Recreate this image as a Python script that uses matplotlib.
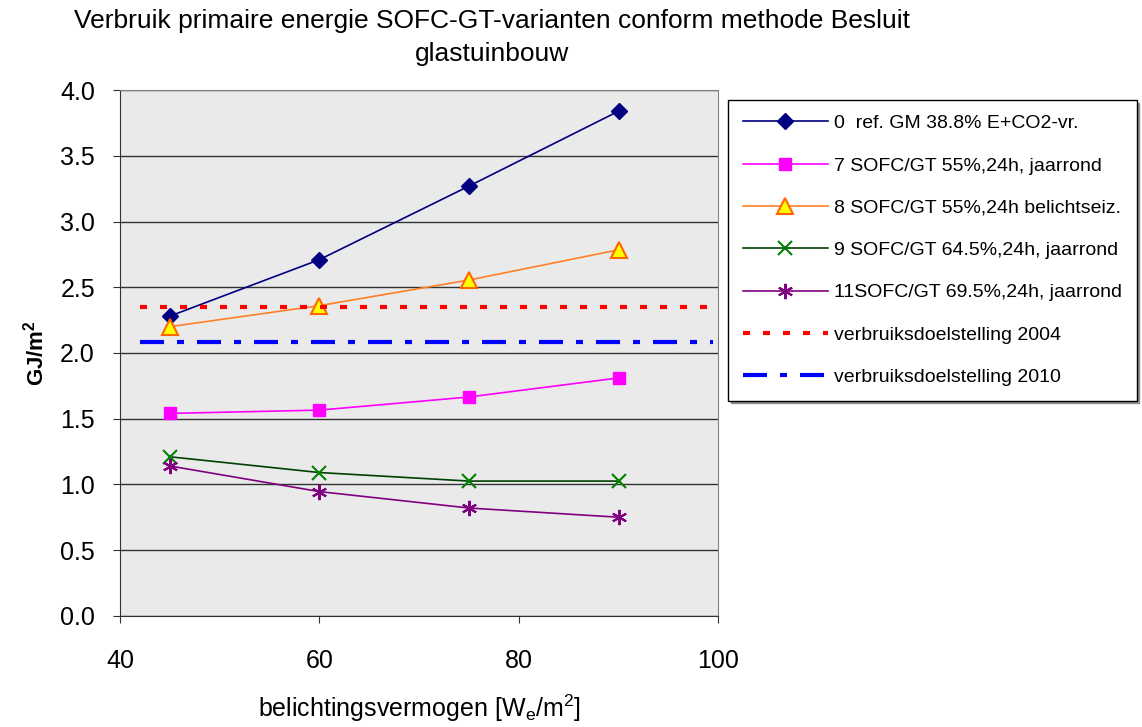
import matplotlib.pyplot as plt

plt.rcParams['font.family'] = ['Liberation Sans', 'DejaVu Sans']
plt.rcParams['mathtext.default'] = 'regular'

x = [45, 60, 75, 90]
ref_gm = [2.28, 2.71, 3.27, 3.84]
sofc7 = [1.54, 1.565, 1.665, 1.81]
sofc8 = [2.20, 2.36, 2.555, 2.785]
sofc9 = [1.21, 1.09, 1.025, 1.025]
sofc11 = [1.14, 0.945, 0.82, 0.75]
target_x = [42, 99.5]
target_2004 = 2.35
target_2010 = 2.08

labels = ['0  ref. GM 38.8% E+CO2-vr.',
          '7 SOFC/GT 55%,24h, jaarrond',
          '8 SOFC/GT 55%,24h belichtseiz.',
          '9 SOFC/GT 64.5%,24h, jaarrond',
          '11SOFC/GT 69.5%,24h, jaarrond',
          'verbruiksdoelstelling 2004',
          'verbruiksdoelstelling 2010']

fig = plt.figure(figsize=(11.42, 7.27), dpi=100)
ax = fig.add_axes([0.105, 0.153, 0.524, 0.723])
ax.set_facecolor('#EAEAEA')

h = []
h += ax.plot(x, ref_gm, color='#000080', lw=1.2, marker='D', ms=8, mfc='#000080', mec='#000080')
h += ax.plot(x, sofc7, color='#FF00FF', lw=1.2, marker='s', ms=9, mfc='#FF00FF', mec='#FF00FF')
h += ax.plot(x, sofc8, color='#FF7F27', lw=1.2, marker='^', ms=11, mfc='#FFFF00', mec='#FF6600', mew=1.5)
h += ax.plot(x, sofc9, color='#004000', lw=1.2, marker='x', ms=10, mec='#008000', mew=1.5)
h += ax.plot(x, sofc11, color='#800080', lw=1.2, marker=(6, 2, 0), ms=11, mec='#800080', mew=1.5)
h += ax.plot(target_x, [target_2004] * 2, color='#FF0000', lw=3, linestyle=(0, (1.68, 3.12)))
h += ax.plot(target_x, [target_2010] * 2, color='#0000FF', lw=3,
             linestyle=(0, (5.76, 3.12, 1.68, 3.12)))

ax.set_xlim(40, 100)
ax.set_ylim(0, 4.0)
ax.set_xticks([40, 60, 80, 100])
ax.set_yticks([i * 0.5 for i in range(9)])
ax.set_yticklabels([f'{i * 0.5:.1f}' for i in range(9)])
ax.yaxis.grid(True, color='#333333', lw=1)
ax.set_axisbelow(True)
ax.tick_params(labelsize=18, length=5, color='#333333')
ax.tick_params(axis='x', pad=19)
ax.tick_params(axis='y', pad=13)
for s in ax.spines.values():
    s.set_color('#808080')
ax.spines['left'].set_color('#333333')
ax.spines['bottom'].set_color('#333333')

ax.set_ylabel('GJ/m$^2$', fontsize=16, fontweight='bold', labelpad=8)
ax.set_xlabel('belichtingsvermogen [W$_e$/m$^2$]', fontsize=18, labelpad=14)
fig.text(0.431, 0.987, 'Verbruik primaire energie SOFC-GT-varianten conform methode Besluit\nglastuinbouw',
         fontsize=19, ha='center', va='top', linespacing=1.45)

leg = fig.legend(h, labels, loc='upper left', bbox_to_anchor=(0.6375, 0.8624),
                 fontsize=14, frameon=True, fancybox=False, edgecolor='black',
                 handlelength=4.4, labelspacing=1.27, borderpad=0.75, handletextpad=0.3,
                 borderaxespad=0, shadow={'color': '#909090', 'alpha': 1})
leg.get_frame().set_linewidth(1)

fig.savefig('out.png', dpi=100)
